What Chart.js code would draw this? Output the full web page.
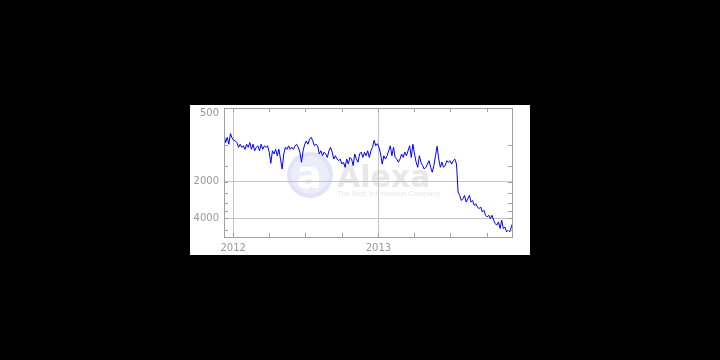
<!DOCTYPE html>
<html>
<head>
<meta charset="utf-8">
<script src="https://cdn.jsdelivr.net/npm/chart.js@4/dist/chart.umd.min.js"></script>
<style>
  html, body { margin: 0; padding: 0; background: #000; }
  #wrap { position: relative; width: 720px; height: 360px; }
</style>
</head>
<body>
<div id="wrap"><canvas id="rankChart" width="720" height="360"></canvas></div>
<script>
// --- data: Alexa traffic rank, Dec 2011 .. Dec 2013 (roughly every 4 days) ---
const firstDay = -23;   // days from 2012-01-01
const lastDay = 705;
const rankValues = [
  820, 960, 870, 990, 810, 880, 920, 930, 960, 1050,
  990, 1050, 1020, 1090, 990, 1050, 960, 1090, 990, 1120,
  1050, 1020, 1120, 990, 1090, 1020, 1050, 1020, 1150, 1420,
  1120, 1190, 1090, 1230, 1090, 1310, 1580, 1190, 1050, 1090,
  1020, 1090, 1050, 1090, 1020, 990, 1050, 1150, 1390, 1120,
  990, 930, 990, 900, 870, 930, 1020, 990, 1020, 1190,
  1120, 1230, 1150, 1190, 1270, 1120, 1050, 1150, 1310, 1230,
  1310, 1350, 1310, 1440, 1390, 1530, 1310, 1440, 1270, 1310,
  1480, 1190, 1310, 1390,
  1190, 1150, 1270, 1150, 1230, 1120, 1270, 1120, 1050, 920,
  1020, 980, 1050, 1190, 1440, 1230, 1310, 1230, 1120, 1020,
  1230, 1050, 1270, 1310, 1390, 1310, 1190, 1270, 1150, 1230,
  1120, 1020, 1270, 990, 1190, 1390, 1530, 1230, 1390, 1480,
  1580, 1530, 1440, 1350, 1530, 1680, 1480, 1230, 1030, 1310,
  1530, 1390, 1530, 1480, 1350, 1390, 1350, 1440, 1350, 1310,
  1440, 2440, 2600, 2860, 2770, 2600, 2950, 2770, 2600, 2950,
  2860, 3140, 3040, 3230, 3340, 3230, 3550, 3440, 3780, 3900,
  3780, 4030, 3780, 4150, 4420, 4560, 4280, 4850, 4150, 4850,
  4710, 5170, 5010, 5170, 4710, 4280
];

const yTicks = [500, 1000, 1500, 2000, 2500, 3000, 3500, 4000, 5000];
const yLabels = [500, 2000, 4000];
const xTicks = [0, 91, 182, 274, 366, 456, 547, 639];   // quarter starts
const yearDays = [0, 366];
const yearLabels = ['2012', '2013'];

const points = rankValues.map((v, i) => ({
  x: firstDay + i * (lastDay - firstDay) / (rankValues.length - 1),
  y: v
}));

const labelColor = '#999';
const gridColor = '#c4c4c4';
const borderColor = '#a0a0a0';

// panel + watermark behind everything
const backdrop = {
  id: 'backdrop',
  beforeDraw(chart) {
    const ctx = chart.ctx;
    ctx.save();
    ctx.fillStyle = '#fff';
    ctx.fillRect(190, 105, 340, 150);

    // alexa watermark
    ctx.fillStyle = '#e3e3f7';
    ctx.beginPath(); ctx.arc(310, 175, 23, 0, Math.PI * 2); ctx.fill();
    ctx.fillStyle = '#ececfa';
    ctx.beginPath(); ctx.arc(310, 175, 19, 0, Math.PI * 2); ctx.fill();
    ctx.fillStyle = '#fff';
    ctx.font = 'bold 38px "DejaVu Sans"';
    ctx.textAlign = 'center';
    ctx.textBaseline = 'alphabetic';
    ctx.fillText('a', 309, 188);

    ctx.fillStyle = '#e8e8e8';
    ctx.font = 'bold 30px "DejaVu Sans"';
    ctx.textAlign = 'left';
    ctx.fillText('Alexa', 337, 187, 96);
    ctx.font = '8px "Liberation Sans"';
    ctx.fillText('The Web Information Company', 337, 196, 103);
    ctx.restore();
  }
};

// frame, inward tick marks, y labels
const frame = {
  id: 'frame',
  afterDatasetsDraw(chart) {
    const ctx = chart.ctx;
    const a = chart.chartArea;
    const xs = chart.scales.x, ys = chart.scales.y;
    ctx.save();
    ctx.strokeStyle = borderColor;
    ctx.lineWidth = 1;
    ctx.strokeRect(Math.round(a.left) + 0.5, Math.round(a.top) + 0.5,
                   Math.round(a.right - a.left) - 1, Math.round(a.bottom - a.top) - 1);
    ctx.beginPath();
    yTicks.forEach(v => {
      const y = Math.round(ys.getPixelForValue(v)) + 0.5;
      ctx.moveTo(a.left, y); ctx.lineTo(a.left + 4, y);
      ctx.moveTo(a.right - 5, y); ctx.lineTo(a.right, y);
    });
    xTicks.forEach(v => {
      const x = Math.round(xs.getPixelForValue(v)) + 0.5;
      ctx.moveTo(x, a.bottom); ctx.lineTo(x, a.bottom - 5);
      ctx.moveTo(x, a.top); ctx.lineTo(x, a.top + 4);
    });
    ctx.stroke();

    ctx.fillStyle = labelColor;
    ctx.font = '10px "DejaVu Sans"';
    ctx.textAlign = 'right';
    ctx.textBaseline = 'middle';
    yLabels.forEach(v => {
      const y = Math.max(ys.getPixelForValue(v), a.top + 5.5);
      ctx.fillText(String(v), a.left - 5, y);
    });
    ctx.restore();
  }
};

new Chart(document.getElementById('rankChart').getContext('2d'), {
  type: 'line',
  data: {
    datasets: [{
      data: points,
      borderColor: '#0000ff',
      borderWidth: 1,
      pointRadius: 0,
      tension: 0,
      fill: false
    }]
  },
  plugins: [backdrop, frame],
  options: {
    responsive: false,
    animation: false,
    layout: { padding: { left: 190, right: 207, top: 108, bottom: 105 } },
    plugins: { legend: { display: false }, tooltip: { enabled: false } },
    scales: {
      x: {
        type: 'linear', min: firstDay, max: lastDay,
        afterBuildTicks: s => { s.ticks = xTicks.map(v => ({ value: v })); },
        afterFit: s => { s.height = 17; },
        border: { display: false },
        grid: {
          drawTicks: false,
          color: c => (c.tick && yearDays.includes(c.tick.value)) ? gridColor : 'rgba(0,0,0,0)'
        },
        ticks: {
          autoSkip: false, maxRotation: 0, padding: 4,
          color: labelColor, font: { family: 'DejaVu Sans', size: 10 },
          callback: v => { const i = yearDays.indexOf(v); return i >= 0 ? yearLabels[i] : ''; }
        }
      },
      y: {
        type: 'logarithmic', min: 500, max: 5800, reverse: true,
        afterBuildTicks: s => { s.ticks = yTicks.map(v => ({ value: v })); },
        afterFit: s => { s.width = 34; },
        border: { display: false },
        grid: {
          drawTicks: false,
          color: c => (c.tick && (c.tick.value === 2000 || c.tick.value === 4000)) ? gridColor : 'rgba(0,0,0,0)'
        },
        ticks: { display: false }
      }
    }
  }
});
</script>
</body>
</html>
